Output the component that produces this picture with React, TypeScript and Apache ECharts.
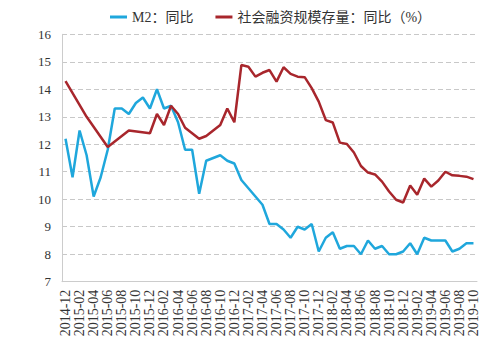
import React, { useEffect, useRef } from "react";
import * as echarts from "echarts";

const months: string[] = [];
for (let y = 2014, m = 12; !(y === 2019 && m === 11); ) {
  months.push(`${y}-${String(m).padStart(2, "0")}`);
  m++;
  if (m > 12) { m = 1; y++; }
}

const m2Values = [
  12.2, 10.8, 12.5, 11.6, 10.1, 10.8, 11.8, 13.3, 13.3, 13.1, 13.5, 13.7, 13.3, 14.0, 13.3,
  13.4, 12.8, 11.8, 11.8, 10.2, 11.4, 11.5, 11.6, 11.4, 11.3, 10.7, 10.4, 10.1, 9.8, 9.1,
  9.1, 8.9, 8.6, 9.0, 8.9, 9.1, 8.1, 8.6, 8.8, 8.2, 8.3, 8.3, 8.0, 8.5, 8.2,
  8.3, 8.0, 8.0, 8.1, 8.4, 8.0, 8.6, 8.5, 8.5, 8.5, 8.1, 8.2, 8.4, 8.4,
];

const tsfValues: (number | null)[] = [
  14.3, null, null, 13.0, null, null, 11.9, null, null, 12.5, null, null, 12.4, 13.1, 12.7,
  13.4, 13.1, 12.6, 12.4, 12.2, 12.3, 12.5, 12.7, 13.3, 12.8, 14.88, 14.82, 14.46, 14.6, 14.7,
  14.28, 14.8, 14.56, 14.46, 14.44, 14.04, 13.55, 12.88, 12.79, 12.06, 12.01, 11.7, 11.21, 10.97, 10.9,
  10.64, 10.28, 9.98, 9.88, 10.5, 10.16, 10.75, 10.46, 10.68, 11.0, 10.87, 10.85, 10.82, 10.73,
];

const seriesNames = ["M2：同比", "社会融资规模存量：同比（%）"];
const yTicks = { min: 7, max: 16, interval: 1 };

export default function App() {
  const ref = useRef<HTMLDivElement>(null);
  useEffect(() => {
    if (!ref.current) return;
    const chart = echarts.init(ref.current, null, { renderer: "svg" });
    const serif = "'Liberation Serif', 'Times New Roman', 'Noto Sans CJK SC', serif";
    chart.setOption({
      animation: false,
      legend: {
        top: 5,
        left: 105,
        itemGap: 22,
        itemWidth: 17,
        itemHeight: 3,
        icon: "rect",
        textStyle: { fontFamily: serif, fontSize: 14, color: "#333" },
        data: seriesNames,
      },
      grid: { left: 62, right: 19, top: 34.3, bottom: 68.3, containLabel: false },
      xAxis: {
        type: "category",
        data: months,
        boundaryGap: true,
        axisLine: { lineStyle: { color: "#cccccc" } },
        axisTick: { show: false },
        axisLabel: {
          interval: 1,
          rotate: 90,
          margin: 8,
          fontFamily: serif,
          fontSize: 14,
          color: "#333",
        },
      },
      yAxis: {
        type: "value",
        min: yTicks.min,
        max: yTicks.max,
        interval: yTicks.interval,
        axisLine: { show: true, lineStyle: { color: "#cccccc" } },
        axisTick: { show: false },
        axisLabel: { fontFamily: serif, fontSize: 13, color: "#333", margin: 11 },
        splitLine: { lineStyle: { color: "#c8c8c8", type: [5, 3], width: 1 } },
      },
      series: [
        {
          name: seriesNames[0],
          type: "line",
          data: m2Values,
          symbol: "none",
          lineStyle: { color: "#1fa7dc", width: 2.5 },
          itemStyle: { color: "#1fa7dc" },
        },
        {
          name: seriesNames[1],
          type: "line",
          data: tsfValues,
          connectNulls: true,
          symbol: "none",
          lineStyle: { color: "#a8262c", width: 2.5 },
          itemStyle: { color: "#a8262c" },
        },
      ],
    });
    return () => chart.dispose();
  }, []);
  return (
    <div
      ref={ref}
      style={{ position: "fixed", left: 0, top: 0, width: 496, height: 350, background: "#fff" }}
    />
  );
}
